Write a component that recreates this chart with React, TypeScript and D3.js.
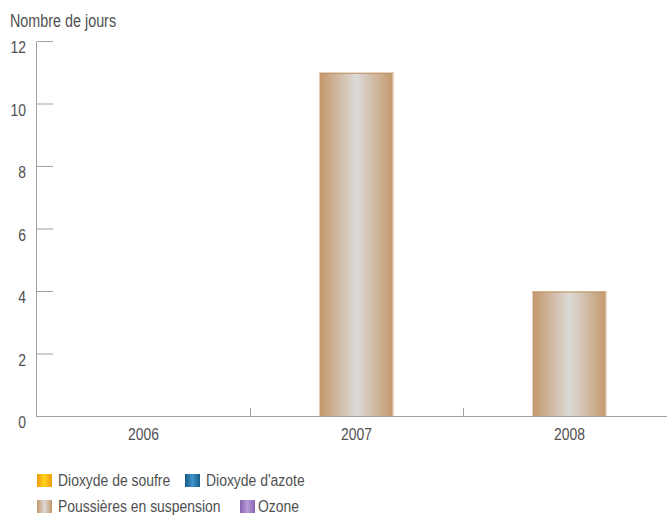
import React from "react";
import * as d3 from "d3";

const categories = ["2006", "2007", "2008"];
const poussieres = [0, 11, 4];
const yTicks = [0, 2, 4, 6, 8, 10, 12];
const yLabel = "Nombre de jours";
const legendItems = [
  { name: "Dioxyde de soufre", edge: "#f29a0e", mid: "#ffd21a" },
  { name: "Dioxyde d'azote", edge: "#175a86", mid: "#3f95c9" },
  { name: "Poussières en suspension", edge: "#c3976a", mid: "#dcdad8" },
  { name: "Ozone", edge: "#8763b0", mid: "#b79cd8" },
];

const W = 667;
const H = 516;
const FONT = "'Liberation Sans', Arial, sans-serif";
const TEXT = "#505050";
const AXIS = "#a3a3a3";
const NARROW = 0.82;

function Txt({ x, y, anchor = "start", size = 17, children }: any) {
  return (
    <text
      transform={`translate(${x},${y}) scale(${NARROW},1)`}
      fontSize={size}
      fill={TEXT}
      textAnchor={anchor}
      fontFamily={FONT}
    >
      {children}
    </text>
  );
}

export default function App() {
  const x = d3
    .scaleBand<string>()
    .domain(categories)
    .range([37, 676])
    .paddingInner(0.653)
    .paddingOuter(0.3265);
  const xCat = d3.scaleBand<string>().domain(categories).range([37, 676]).padding(0);
  const y = d3.scaleLinear().domain([0, 12]).range([416.5, 41.5]);

  const legendPos = [
    { x: 37, y: 474, tx: 58 },
    { x: 185, y: 474, tx: 206 },
    { x: 37, y: 500, tx: 58 },
    { x: 240, y: 500, tx: 258 },
  ];

  return (
    <svg
      width={W}
      height={H}
      style={{ position: "absolute", left: 0, top: 0, display: "block" }}
    >
      <defs>
        {legendItems.map((l, i) => (
          <linearGradient key={i} id={`g${i}`} x1="0" x2="1" y1="0" y2="0">
            <stop offset="0" stopColor={l.edge} />
            <stop offset="0.5" stopColor={l.mid} />
            <stop offset="1" stopColor={l.edge} />
          </linearGradient>
        ))}
      </defs>
      <rect width={W} height={H} fill="#fff" />

      <Txt x={10} y={27} size={17.5}>
        {yLabel}
      </Txt>

      {/* bars */}
      {categories.map((c, i) => {
        const v = poussieres[i];
        if (v <= 0) return null;
        const x0 = x(c)!;
        const bw = x.bandwidth();
        const yt = y(v);
        return (
          <g key={c}>
            <rect x={x0} y={yt} width={bw} height={y(0) - yt} fill="url(#g2)" />
            <line x1={x0} x2={x0 + bw} y1={yt + 0.5} y2={yt + 0.5} stroke="#c0915f" strokeWidth={1} />
            <line x1={x0 + bw - 0.5} x2={x0 + bw - 0.5} y1={yt} y2={y(0)} stroke="#eddcc6" strokeWidth={1} />
          </g>
        );
      })}

      {/* y axis */}
      <line x1={36.5} x2={36.5} y1={y(12)} y2={y(0)} stroke={AXIS} strokeWidth={1} />
      {yTicks.map((t) => (
        <g key={t}>
          {t > 0 && (
            <line x1={37} x2={53} y1={y(t)} y2={y(t)} stroke={AXIS} strokeWidth={1} />
          )}
          <Txt x={26} y={y(t) + 11.8} anchor="end">
            {t}
          </Txt>
        </g>
      ))}

      {/* x axis */}
      <line x1={36} x2={W} y1={y(0)} y2={y(0)} stroke={AXIS} strokeWidth={1} />
      {categories.map((c) => {
        const xs = xCat(c)!;
        return (
          <g key={c}>
            {xs > 40 && (
              <line x1={Math.round(xs) + 0.5} x2={Math.round(xs) + 0.5} y1={408} y2={y(0)} stroke={AXIS} strokeWidth={1} />
            )}
            <Txt x={xs + xCat.bandwidth() / 2} y={440} anchor="middle">
              {c}
            </Txt>
          </g>
        );
      })}

      {/* legend */}
      {legendItems.map((l, i) => {
        const p = legendPos[i];
        return (
          <g key={l.name}>
            <rect x={p.x} y={p.y} width={15} height={13} fill={`url(#g${i})`} />
            <Txt x={p.tx} y={p.y + 12}>
              {l.name}
            </Txt>
          </g>
        );
      })}
    </svg>
  );
}
